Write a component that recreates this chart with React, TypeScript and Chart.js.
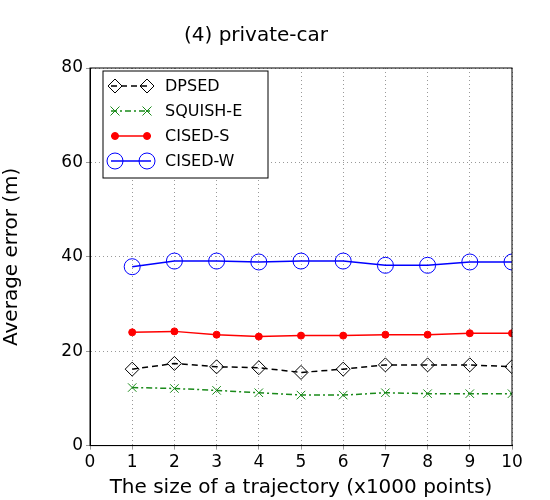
import React, { useEffect, useRef } from "react";
import { Chart, registerables } from "chart.js";
Chart.register(...registerables);

const xs = [1, 2, 3, 4, 5, 6, 7, 8, 9, 10];
const dpsed = [16.2, 17.4, 16.7, 16.5, 15.5, 16.2, 17.1, 17.1, 17.1, 16.7];
const squish = [12.3, 12.1, 11.7, 11.2, 10.7, 10.7, 11.2, 11.0, 11.0, 11.0];
const cisedS = [24.0, 24.2, 23.5, 23.1, 23.3, 23.3, 23.5, 23.5, 23.8, 23.8];
const cisedW = [37.9, 39.1, 39.1, 38.9, 39.1, 39.1, 38.2, 38.2, 38.9, 38.9];

const F = "'DejaVu Sans', sans-serif";

function marker(ctx: any, style: string, r: number, color: string, fill: string, x: number, y: number) {
  ctx.save();
  ctx.strokeStyle = color; ctx.fillStyle = fill; ctx.lineWidth = 1; ctx.setLineDash([]);
  ctx.beginPath();
  if (style === "rectRot") {
    ctx.moveTo(x, y - r); ctx.lineTo(x + r, y); ctx.lineTo(x, y + r); ctx.lineTo(x - r, y); ctx.closePath();
    ctx.fill(); ctx.stroke();
  } else if (style === "crossRot") {
    const d = r * 0.75;
    ctx.moveTo(x - d, y - d); ctx.lineTo(x + d, y + d); ctx.moveTo(x + d, y - d); ctx.lineTo(x - d, y + d); ctx.stroke();
  } else {
    ctx.arc(x, y, r, 0, Math.PI * 2); ctx.fill(); ctx.stroke();
  }
  ctx.restore();
}

const legendPlugin = {
  id: "boxLegend",
  afterDraw(chart: any) {
    const ctx = chart.ctx;
    const a = chart.chartArea;
    const x0 = a.left + 13, y0 = a.top + 3, w = 165, h = 107;
    ctx.save();
    ctx.fillStyle = "#fff";
    ctx.strokeStyle = "#000";
    ctx.lineWidth = 1;
    ctx.fillRect(x0, y0, w, h);
    ctx.strokeRect(x0, y0, w, h);
    chart.data.datasets.forEach((ds: any, i: number) => {
      const cy = y0 + 15 + i * 25;
      ctx.strokeStyle = ds.borderColor;
      ctx.lineWidth = ds.borderWidth;
      ctx.setLineDash(ds.borderDash || []);
      ctx.beginPath();
      ctx.moveTo(x0 + 8, cy);
      ctx.lineTo(x0 + 48, cy);
      ctx.stroke();
      ctx.setLineDash([]);
      [x0 + 12, x0 + 44].forEach((px) => {
        marker(ctx, ds.pointStyle, ds.pointRadius, ds.borderColor, ds.pointBackgroundColor || "rgba(0,0,0,0)", px, cy);
      });
      ctx.fillStyle = "#000";
      ctx.font = `16px ${F}`;
      ctx.textBaseline = "middle";
      ctx.fillText(ds.label, x0 + 62, cy + 1);
    });
    ctx.restore();
  },
};

export default function App() {
  const ref = useRef<HTMLCanvasElement>(null);
  useEffect(() => {
    document.body.style.margin = "0";
    const mk = (label: string, data: number[], color: string, extra: any) => ({
      label, data: xs.map((x, i) => ({ x, y: data[i] })), borderColor: color,
      borderWidth: 1.5, pointBorderColor: color, pointBorderWidth: 1, ...extra,
    });
    const chart = new Chart(ref.current!, {
      type: "line",
      data: {
        datasets: [
          mk("DPSED", dpsed, "#000", { borderDash: [6, 4], pointStyle: "rectRot", pointRadius: 7, pointBackgroundColor: "rgba(0,0,0,0)", backgroundColor: "rgba(0,0,0,0)" }),
          mk("SQUISH-E", squish, "#1a8a1a", { borderDash: [6, 3, 2, 3], pointStyle: "crossRot", pointRadius: 6, backgroundColor: "rgba(0,0,0,0)" }),
          mk("CISED-S", cisedS, "#f00", { pointStyle: "circle", pointRadius: 3.5, pointBackgroundColor: "#f00", backgroundColor: "#f00" }),
          mk("CISED-W", cisedW, "#00f", { pointStyle: "circle", pointRadius: 8, pointBackgroundColor: "rgba(0,0,0,0)", backgroundColor: "rgba(0,0,0,0)" }),
        ],
      },
      options: {
        animation: false, responsive: false,
        layout: { padding: { top: 0, right: 38, left: 0, bottom: 0 } },
        plugins: {
          legend: { display: false }, tooltip: { enabled: false },
          title: { display: true, text: "(4) private-car", color: "#000", font: { family: F, size: 20, weight: "normal" }, padding: { top: 24, bottom: 20 } },
        },
        scales: {
          x: {
            type: "linear", min: 0, max: 10,
            ticks: { stepSize: 1, color: "#000", font: { family: F, size: 17 } },
            grid: { color: "#999", tickLength: 4 },
            border: { color: "#000", dash: [1, 3] } as any,
            title: { display: true, text: "The size of a trajectory (x1000 points)", color: "#000", font: { family: F, size: 20 }, padding: 0 },
          },
          y: {
            min: 0, max: 80,
            ticks: { stepSize: 20, color: "#000", font: { family: F, size: 17 } },
            grid: { color: "#999", tickLength: 4 },
            border: { color: "#000", dash: [1, 3] } as any,
            title: { display: true, text: "Average error (m)", color: "#000", font: { family: F, size: 20 }, padding: 0 },
            afterFit: (s: any) => { s.width = 90; },
          },
        },
      },
      plugins: [legendPlugin, {
        id: "frame",
        afterDraw(c: any) {
          const a = c.chartArea, ctx = c.ctx;
          ctx.save(); ctx.strokeStyle = "#000"; ctx.lineWidth = 1;
          ctx.strokeRect(a.left, a.top, a.right - a.left, a.bottom - a.top); ctx.restore();
        },
      }],
    });
    return () => chart.destroy();
  }, []);
  return <canvas ref={ref} width={550} height={500} />;
}
